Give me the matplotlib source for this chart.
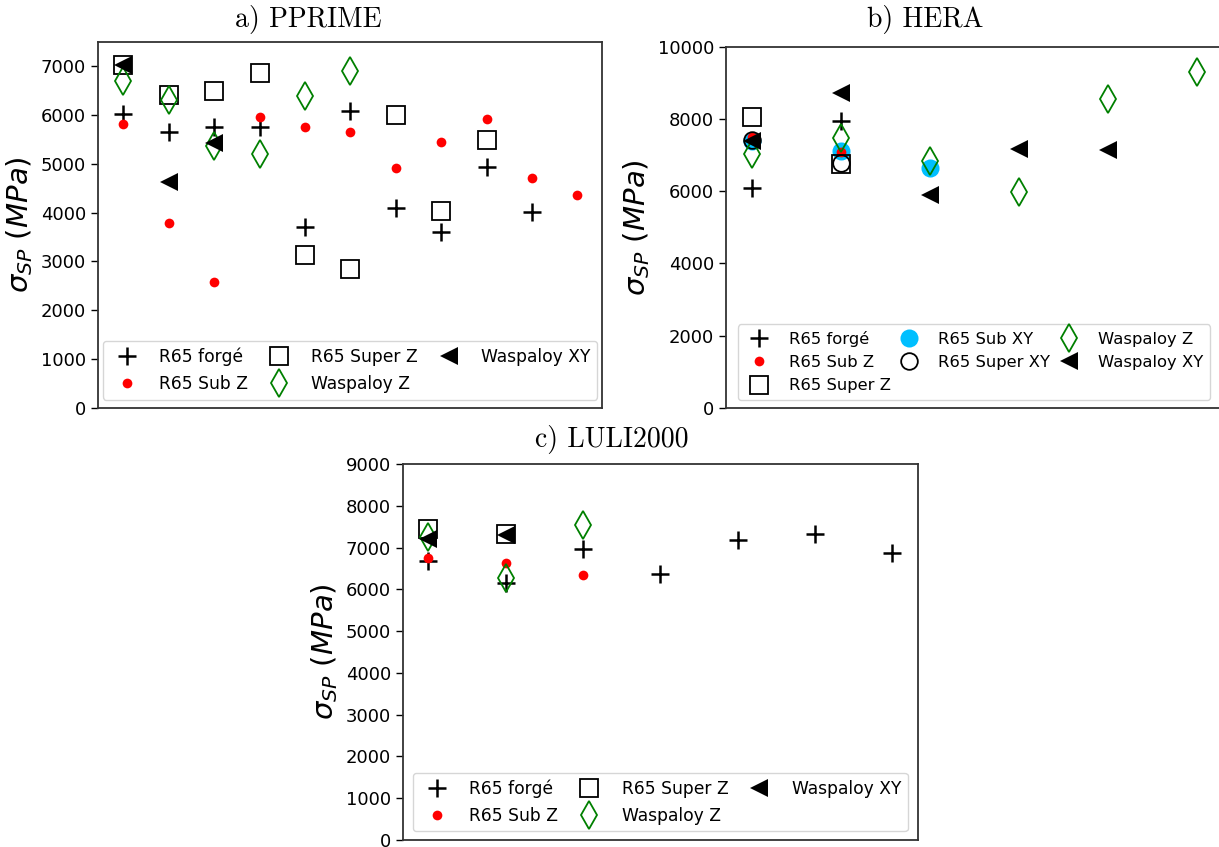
import numpy as np
import matplotlib
matplotlib.use("Agg")
import matplotlib.pyplot as plt

# a) PPRIME
a_forge = [6010, 5650, 5750, 5750, 3710, 6080, 4100, 3600, 4940, 4010]
a_subz = [5800, 3780, 2590, 5960, 5750, 5650, 4900, 5450, 5910, 4700, 4350]
a_superz = [7010, 6400, 6490, 6860, 3130, 2850, 5990, 4040, 5480]
a_waspz = [6680, 6300, 5360, 5190, 6390, 6890]
a_waspxy = [7010, 4630, 5420]

# b) HERA
b_forge = [6100, 7940]
b_subz = [7490, 7080]
b_superz = [8060, 6740]
b_subxy = [7390, 7110, 6650]
b_superxy = [7410, 6770]
b_waspz = [7020, 7480, 6830, 5980, 8540, 9310]
b_waspxy = [7390, 8710, 5900, 7170, 7140]

# c) LULI2000
c_forge = [6680, 6140, 6960, 6360, 7180, 7330, 6870]
c_subz = [6750, 6630, 6340]
c_superz = [7450, 7330]
c_waspz = [7250, 6260, 7550]
c_waspxy = [7210, 7290]

STYLES = {
    "R65 forgé": dict(marker="+", color="black", ms=13, mew=1.8),
    "R65 Sub Z": dict(marker="o", color="red", ms=7, mew=0),
    "R65 Super Z": dict(marker="s", mfc="none", mec="black", ms=12.5, mew=1.3),
    "R65 Sub XY": dict(marker="o", color="#00bfff", ms=13, mew=0, zorder=1.5),
    "R65 Super XY": dict(marker="o", mfc="none", mec="black", ms=12, mew=1.3),
    "Waspaloy Z": dict(marker="d", mfc="none", mec="green", ms=14, mew=1.3),
    "Waspaloy XY": dict(marker="<", color="black", ms=13, mew=0),
}


def draw(ax, series, ylim, yticks, **leg_kw):
    for label, vals in series:
        x = np.arange(1, len(vals) + 1)
        ax.plot(x, vals, ls="none", label=label, **STYLES[label])
    ax.set_ylim(*ylim)
    ax.set_yticks(yticks)
    ax.set_xticks([])
    ax.tick_params(axis="y", labelsize=13, width=1.0, length=5)
    for sp in ax.spines.values():
        sp.set_linewidth(1.3)
        sp.set_color("#333333")
    ax.set_ylabel(r"$\sigma_{SP}\ (MPa)$", fontsize=21)
    opts = dict(ncol=3, loc="lower center", fontsize=12.3, columnspacing=0.8,
                handletextpad=0.9)
    opts.update(leg_kw)
    ax.legend(**opts)


fig = plt.figure(figsize=(12.19, 8.47), dpi=100)
W, H = 1219.0, 847.0


def add_axes(left, right, top, bottom):
    return fig.add_axes([left / W, 1 - bottom / H, (right - left) / W, (bottom - top) / H])


ax_a = add_axes(98, 602, 41.7, 408.3)
draw(ax_a, [("R65 forgé", a_forge), ("R65 Sub Z", a_subz), ("R65 Super Z", a_superz),
            ("Waspaloy Z", a_waspz), ("Waspaloy XY", a_waspxy)],
     (0, 7490), np.arange(0, 7001, 1000))
ax_a.set_xlim(0.44, 11.54)

ax_b = add_axes(726, 1222, 46.7, 408)
draw(ax_b, [("R65 forgé", b_forge), ("R65 Sub Z", b_subz), ("R65 Super Z", b_superz),
            ("R65 Sub XY", b_subxy), ("R65 Super XY", b_superxy),
            ("Waspaloy Z", b_waspz), ("Waspaloy XY", b_waspxy)],
     (0, 10000), np.arange(0, 10001, 2000),
     fontsize=11.8, columnspacing=0.2, handlelength=1.8)
ax_b.set_xlim(0.71, 6.28)

ax_c = add_axes(402.7, 918, 464, 840)
draw(ax_c, [("R65 forgé", c_forge), ("R65 Sub Z", c_subz), ("R65 Super Z", c_superz),
            ("Waspaloy Z", c_waspz), ("Waspaloy XY", c_waspxy)],
     (0, 9000), np.arange(0, 9001, 1000))
ax_c.set_xlim(0.67, 7.33)

# subfigure captions
for txt, cx, cy in [("a) PPRIME", 308, 20), ("b) HERA", 925, 20), ("c) LULI2000", 612, 440)]:
    fig.text(cx / W, 1 - cy / H, txt, ha="center", va="center",
             fontsize=20, fontfamily="cmr10")

fig.savefig("out.png", dpi=100)
